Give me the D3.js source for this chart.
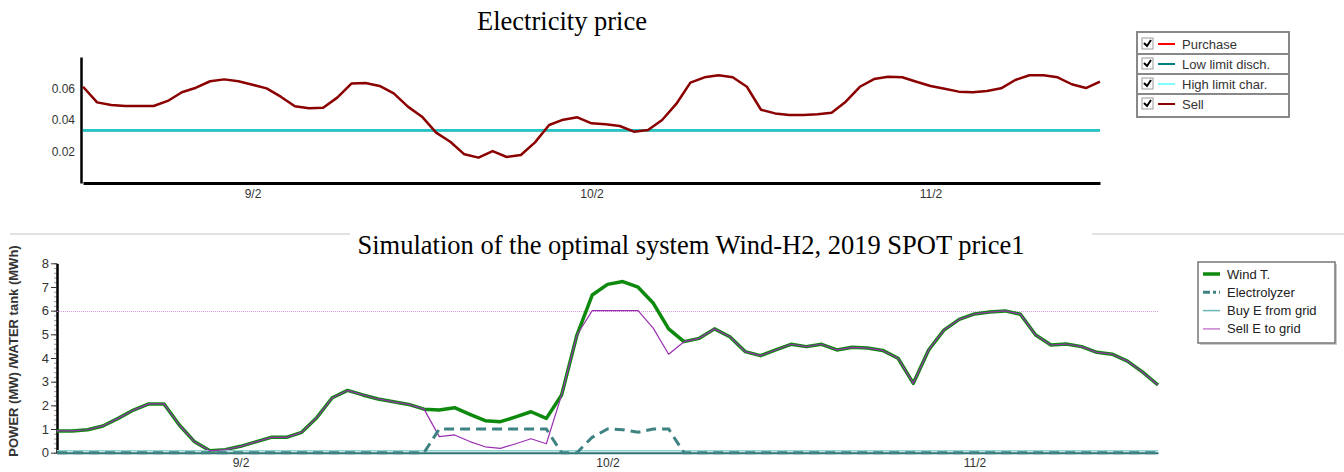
<!DOCTYPE html>
<html>
<head>
<meta charset="utf-8">
<script src="https://cdn.jsdelivr.net/npm/d3@7"></script>
<style>
  body { margin: 0; background: #fff; }
  svg { display: block; font-family: Arial, "Liberation Sans", sans-serif; }
</style>
</head>
<body>
<svg id="chart" width="1344" height="472"></svg>
<script>
// hours from 9/1 12:00, one point per hour
const hours = d3.range(0, 73);
const dayTicks = [12, 36, 60];
const dayLabels = ["9/2", "10/2", "11/2"];

// electricity price
const sellPrice = [0.0611, 0.0512, 0.0495, 0.0489, 0.0489, 0.0489, 0.0521, 0.0576, 0.0605, 0.0646,
  0.0658, 0.0646, 0.0624, 0.0601, 0.0548, 0.0487, 0.0474, 0.0478, 0.0542, 0.0631,
  0.0635, 0.0616, 0.0569, 0.0485, 0.0421, 0.0320, 0.0262, 0.0182, 0.0161, 0.0203,
  0.0165, 0.0178, 0.0258, 0.0368, 0.0402, 0.0417, 0.0379, 0.0373, 0.0362, 0.0326,
  0.0337, 0.0400, 0.0502, 0.0637, 0.0671, 0.0684, 0.0671, 0.0611, 0.0465, 0.0442,
  0.0432, 0.0432, 0.0436, 0.0446, 0.0516, 0.0611, 0.0660, 0.0675, 0.0671, 0.0643,
  0.0616, 0.0599, 0.0580, 0.0576, 0.0584, 0.0601, 0.0654, 0.0684, 0.0684, 0.0671,
  0.0627, 0.0603, 0.0643];
const lowLimit = 0.0335;
const highLimit = 0.0335;
const priceTicks = [0.02, 0.04, 0.06];

// simulation
const windT = [0.92, 0.92, 0.97, 1.13, 1.45, 1.80, 2.06, 2.06, 1.17, 0.46,
  0.08, 0.13, 0.27, 0.46, 0.65, 0.65, 0.86, 1.49, 2.32, 2.63,
  2.44, 2.27, 2.15, 2.04, 1.84, 1.80, 1.90, 1.62, 1.35, 1.31,
  1.51, 1.73, 1.45, 2.44, 4.97, 6.66, 7.11, 7.23, 6.99, 6.31,
  5.23, 4.69, 4.83, 5.23, 4.90, 4.27, 4.10, 4.34, 4.58, 4.48,
  4.58, 4.34, 4.45, 4.42, 4.32, 3.99, 2.93, 4.34, 5.18, 5.63,
  5.86, 5.94, 5.99, 5.85, 4.97, 4.55, 4.59, 4.48, 4.24, 4.16,
  3.87, 3.40, 2.86];
const electrolyzer = [0, 0, 0, 0, 0, 0, 0, 0, 0, 0,
  0, 0, 0, 0, 0, 0, 0, 0, 0, 0,
  0, 0, 0, 0, 0, 1.0, 1.0, 1.0, 1.0, 1.0,
  1.0, 1.0, 1.0, 0, 0, 0.65, 1.0, 0.97, 0.86, 1.0,
  1.0, 0, 0, 0, 0, 0, 0, 0, 0, 0,
  0, 0, 0, 0, 0, 0, 0, 0, 0, 0,
  0, 0, 0, 0, 0, 0, 0, 0, 0, 0,
  0, 0, 0];
const buyGrid = hours.map(() => 0);
const sellGrid = [0.92, 0.92, 0.97, 1.13, 1.45, 1.80, 2.06, 2.06, 1.17, 0.46,
  0.08, 0.13, 0.27, 0.46, 0.65, 0.65, 0.86, 1.49, 2.32, 2.63,
  2.44, 2.27, 2.15, 2.04, 1.84, 0.68, 0.75, 0.47, 0.25, 0.18,
  0.38, 0.59, 0.38, 2.44, 4.97, 6.0, 6.0, 6.0, 6.0, 5.25,
  4.16, 4.69, 4.83, 5.23, 4.90, 4.27, 4.10, 4.34, 4.58, 4.48,
  4.58, 4.34, 4.45, 4.42, 4.32, 3.99, 2.93, 4.34, 5.18, 5.63,
  5.86, 5.94, 5.99, 5.85, 4.97, 4.55, 4.59, 4.48, 4.24, 4.16,
  3.87, 3.40, 2.86];
const gridLimit = 6;
const powerTicks = [0, 1, 2, 3, 4, 5, 6, 7, 8];

const svg = d3.select("#chart");

// ---------- top chart: electricity price ----------
const x1 = d3.scaleLinear().domain([0, 72]).range([83, 1100]);
const y1 = d3.scaleLinear().domain([0, 0.08]).range([183, 57]);

svg.append("text")
  .attr("x", 562).attr("y", 30)
  .attr("text-anchor", "middle")
  .style("font-family", "'Liberation Serif', 'Times New Roman', serif")
  .style("font-size", "26.5px")
  .text("Electricity price");

const gTop = svg.append("g");

gTop.append("g")
  .attr("transform", "translate(0,183)")
  .call(d3.axisBottom(x1).tickValues(dayTicks).tickFormat((d, i) => dayLabels[i]).tickSize(0).tickPadding(6))
  .call(g => g.select(".domain").attr("stroke", "#000").attr("stroke-width", 3))
  .call(g => g.selectAll("text").style("font-size", "12px").attr("fill", "#333"));

gTop.append("g")
  .attr("transform", "translate(81,0)")
  .call(d3.axisLeft(y1).tickValues(priceTicks).tickFormat(d3.format(".2f")).tickSize(0).tickPadding(6))
  .call(g => g.select(".domain").attr("stroke", "#000").attr("stroke-width", 2.5))
  .call(g => g.selectAll("text").style("font-size", "12px").attr("fill", "#333"));

const line1 = d3.line().x((d, i) => x1(hours[i])).y(d => y1(d));

gTop.append("path")
  .datum(hours.map(() => lowLimit))
  .attr("d", line1).attr("fill", "none")
  .attr("stroke", "#008080").attr("stroke-width", 2.5);
gTop.append("path")
  .datum(hours.map(() => highLimit))
  .attr("d", line1).attr("fill", "none")
  .attr("stroke", "#22c6c6").attr("stroke-width", 2.5);
gTop.append("path")
  .datum(sellPrice)
  .attr("d", line1).attr("fill", "none")
  .attr("stroke", "#8b0000").attr("stroke-width", 2.5)
  .attr("stroke-linejoin", "round");

// legend with checkboxes
const topLegend = [
  { name: "Purchase", color: "#ff0000" },
  { name: "Low limit disch.", color: "#008080" },
  { name: "High limit char.", color: "#80ffff" },
  { name: "Sell", color: "#8b0000" }
];
const legTop = svg.append("g");
legTop.append("rect")
  .attr("x", 1137).attr("y", 32).attr("width", 152).attr("height", 85)
  .attr("fill", "#fff").attr("stroke", "#888").attr("stroke-width", 2);
const rowY = [32, 54, 74, 94];
topLegend.forEach((d, i) => {
  const cy = rowY[i] + (i === 0 ? 12 : 10);
  if (i > 0) {
    legTop.append("line")
      .attr("x1", 1137).attr("x2", 1289).attr("y1", rowY[i]).attr("y2", rowY[i])
      .attr("stroke", "#888").attr("stroke-width", 2);
  }
  legTop.append("rect")
    .attr("x", 1142).attr("y", cy - 6).attr("width", 11).attr("height", 11)
    .attr("fill", "#fff").attr("stroke", "#999").attr("stroke-width", 1);
  legTop.append("path")
    .attr("d", `M${1144},${cy - 1} L${1147},${cy + 2} L${1151},${cy - 4}`)
    .attr("fill", "none").attr("stroke", "#000").attr("stroke-width", 2);
  legTop.append("line")
    .attr("x1", 1158).attr("x2", 1175).attr("y1", cy).attr("y2", cy)
    .attr("stroke", d.color).attr("stroke-width", 2);
  legTop.append("text")
    .attr("x", 1182).attr("y", cy).attr("dy", "0.35em")
    .style("font-size", "13px").attr("fill", "#333")
    .text(d.name);
});

// ---------- bottom chart: simulation ----------
const x2 = d3.scaleLinear().domain([0, 72]).range([57, 1158]);
const y2 = d3.scaleLinear().domain([0, 8]).range([452.7, 263.3]);

svg.append("line")
  .attr("x1", 10).attr("x2", 350).attr("y1", 234).attr("y2", 234)
  .attr("stroke", "#e2e2e2").attr("stroke-width", 2);
svg.append("line")
  .attr("x1", 1092).attr("x2", 1344).attr("y1", 234).attr("y2", 234)
  .attr("stroke", "#e2e2e2").attr("stroke-width", 2);

svg.append("text")
  .attr("x", 691).attr("y", 254)
  .attr("text-anchor", "middle")
  .style("font-family", "'Liberation Serif', 'Times New Roman', serif")
  .style("font-size", "26.5px")
  .text("Simulation of the optimal system Wind-H2, 2019 SPOT price1");

svg.append("text")
  .attr("transform", "translate(18,351) rotate(-90)")
  .attr("text-anchor", "middle")
  .style("font-size", "13px").style("font-weight", "bold")
  .attr("fill", "#333")
  .text("POWER (MW) /WATER tank (MWh)");

const gBot = svg.append("g");

// minor ticks
gBot.append("g")
  .attr("transform", "translate(57,0)")
  .call(d3.axisLeft(y2).ticks(40).tickFormat("").tickSize(3))
  .call(g => g.select(".domain").remove())
  .call(g => g.selectAll("line").attr("stroke", "#999"));

gBot.append("g")
  .attr("transform", "translate(57,0)")
  .call(d3.axisLeft(y2).tickValues(powerTicks).tickSize(6).tickPadding(2).tickSizeOuter(0))
  .call(g => g.select(".domain").attr("stroke", "#000").attr("stroke-width", 2.5))
  .call(g => g.selectAll(".tick line").attr("stroke", "#333"))
  .call(g => g.selectAll("text").style("font-size", "13px").attr("fill", "#333"));

gBot.append("g")
  .attr("transform", "translate(0,452.7)")
  .call(d3.axisBottom(x2).tickValues(dayTicks).tickFormat((d, i) => dayLabels[i]).tickSize(0).tickPadding(6))
  .call(g => g.select(".domain").attr("stroke", "#2f7575").attr("stroke-width", 2))
  .call(g => g.selectAll("text").style("font-size", "12px").attr("fill", "#333"));

gBot.append("line")
  .attr("x1", x2(0)).attr("x2", x2(72))
  .attr("y1", Math.round(y2(gridLimit)) + 0.5).attr("y2", Math.round(y2(gridLimit)) + 0.5)
  .attr("stroke", "#d69ade").attr("stroke-width", 1)
  .attr("shape-rendering", "crispEdges")
  .attr("stroke-dasharray", "1,1");

const line2 = d3.line().x((d, i) => x2(hours[i])).y(d => y2(d));

gBot.append("path")
  .datum(windT)
  .attr("d", line2).attr("fill", "none")
  .attr("stroke", "#0d8a0d").attr("stroke-width", 3.5)
  .attr("stroke-linejoin", "round");
gBot.append("path")
  .datum(buyGrid)
  .attr("d", line2).attr("fill", "none")
  .attr("stroke", "#8fd0d0").attr("stroke-width", 1.5)
  .attr("transform", "translate(0,-2)");
gBot.append("path")
  .datum(sellGrid)
  .attr("d", line2).attr("fill", "none")
  .attr("stroke", "#9a2fb0").attr("stroke-width", 1.2)
  .attr("stroke-linejoin", "round");
gBot.append("path")
  .datum(electrolyzer)
  .attr("d", line2).attr("fill", "none")
  .attr("stroke", "#3f8282").attr("stroke-width", 3)
  .attr("stroke-dasharray", "10,6");

// legend
const botLegend = [
  { name: "Wind T.", color: "#0d8a0d", width: 3.5, dash: null },
  { name: "Electrolyzer", color: "#3f8282", width: 3, dash: "7,3,3,3" },
  { name: "Buy E from grid", color: "#6ab5b5", width: 1.5, dash: null },
  { name: "Sell E to grid", color: "#c77fd0", width: 1.5, dash: null }
];
const legBot = svg.append("g");
legBot.append("rect")
  .attr("x", 1200).attr("y", 264).attr("width", 137).attr("height", 81)
  .attr("fill", "#ccc");
legBot.append("rect")
  .attr("x", 1198).attr("y", 262).attr("width", 137).attr("height", 81)
  .attr("fill", "#fff").attr("stroke", "#777").attr("stroke-width", 1.5);
botLegend.forEach((d, i) => {
  const cy = 274 + i * 18.3;
  legBot.append("line")
    .attr("x1", 1203).attr("x2", 1220).attr("y1", cy).attr("y2", cy)
    .attr("stroke", d.color).attr("stroke-width", d.width)
    .attr("stroke-dasharray", d.dash);
  legBot.append("text")
    .attr("x", 1227).attr("y", cy).attr("dy", "0.35em")
    .style("font-size", "13px").attr("fill", "#222")
    .text(d.name);
});
</script>
</body>
</html>
